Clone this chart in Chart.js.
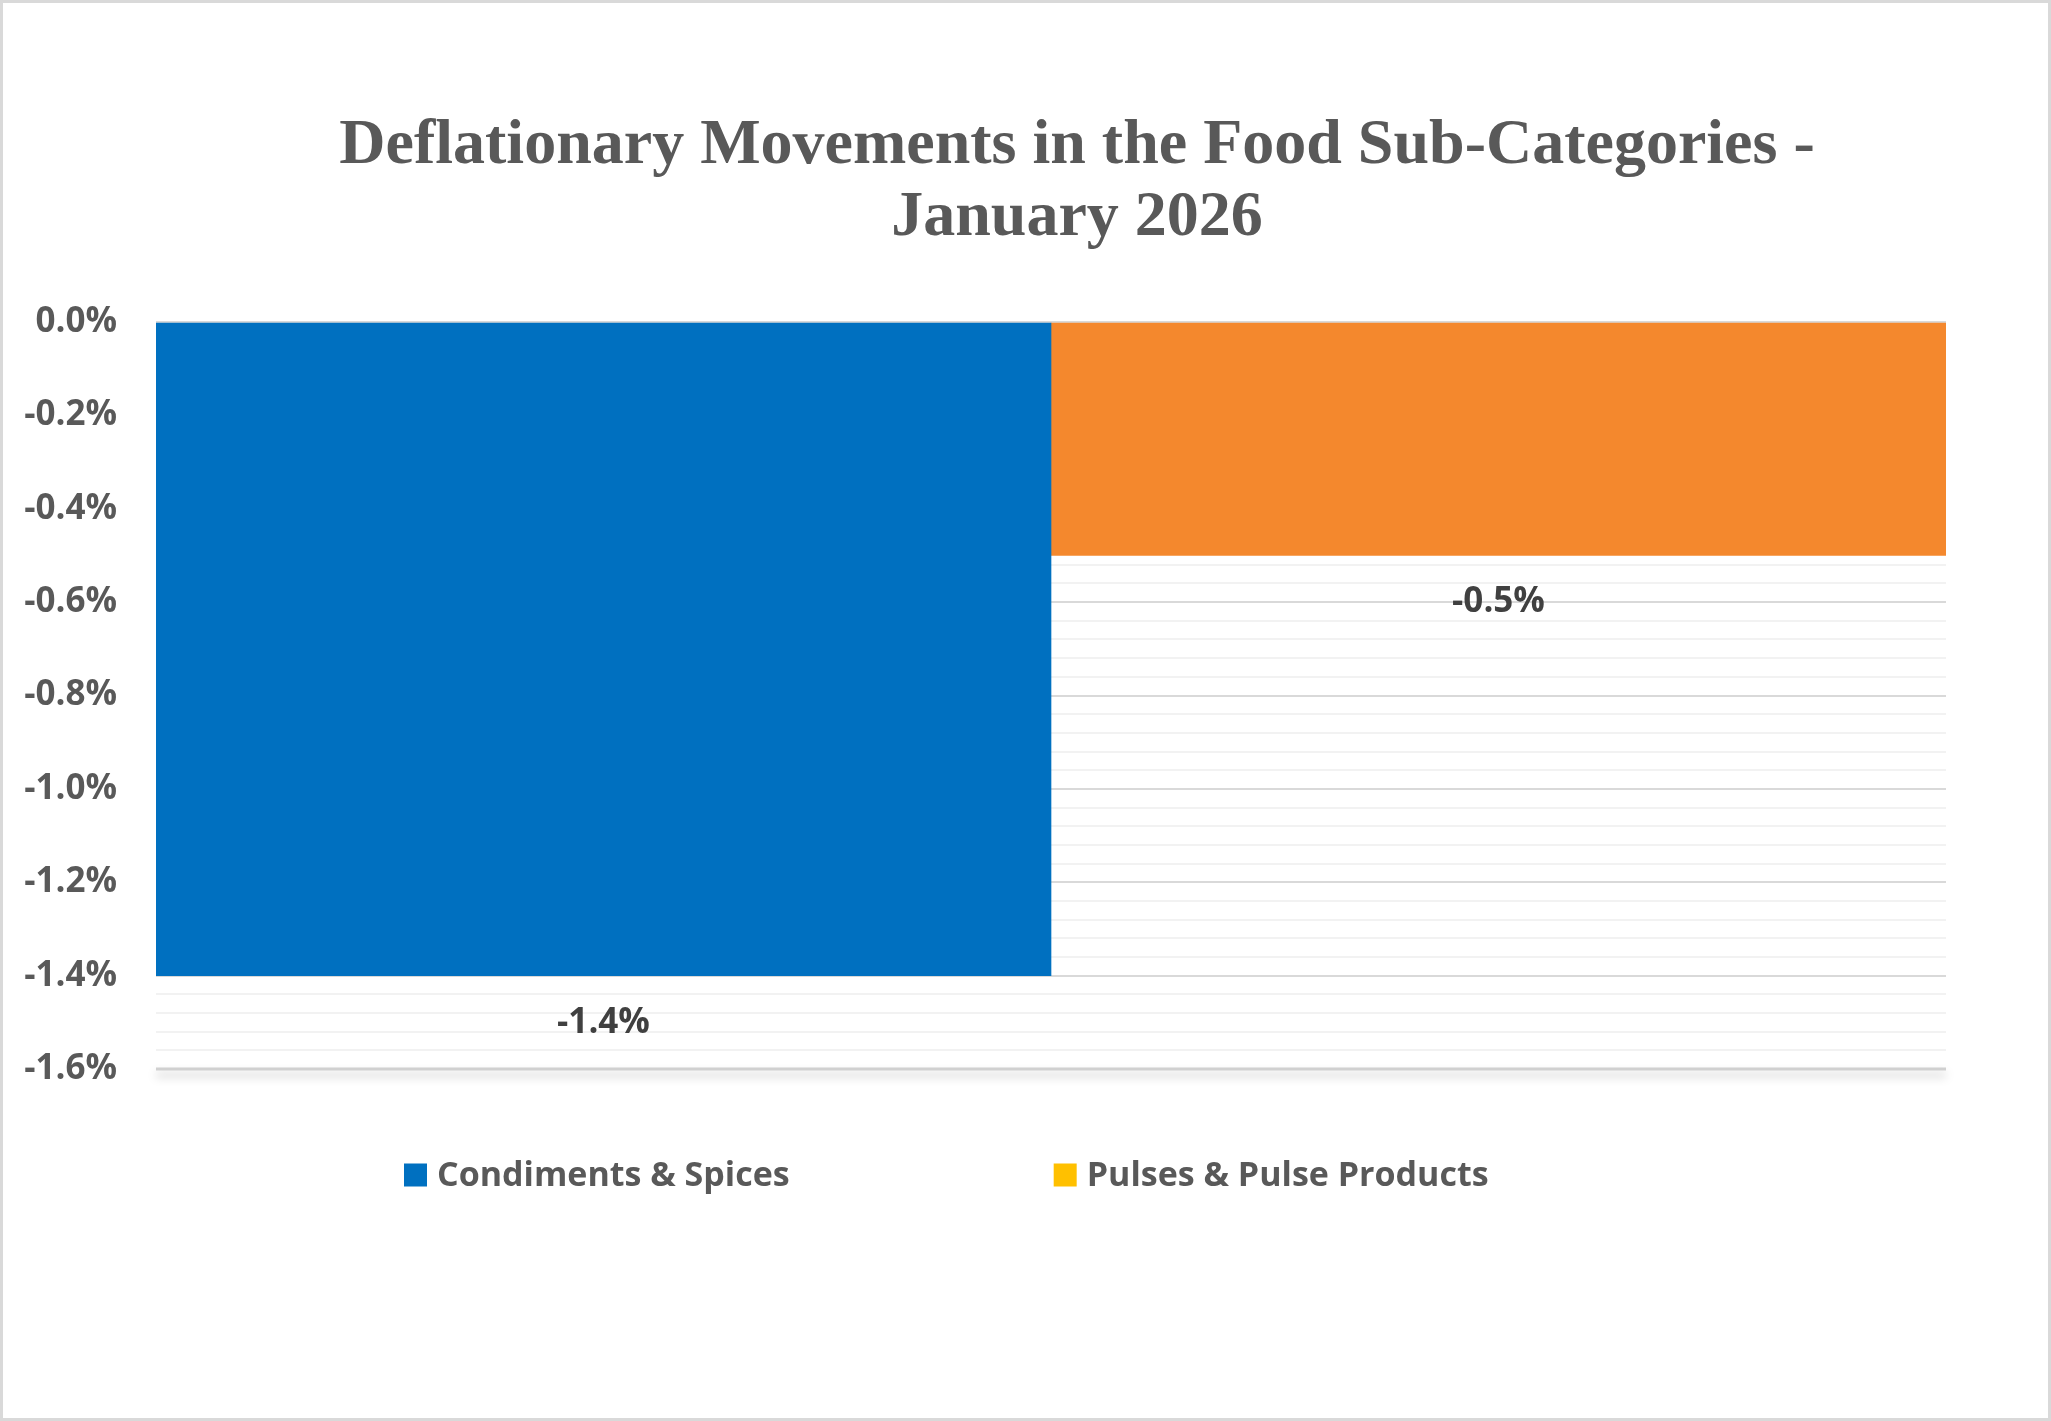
<!DOCTYPE html>
<html>
<head>
<meta charset="utf-8">
<title>Deflationary Movements in the Food Sub-Categories - January 2026</title>
<script src="https://cdn.jsdelivr.net/npm/chart.js@4/dist/chart.umd.min.js"></script>
<style>
    html, body { margin: 0; padding: 0; background: #ffffff; }
    #deflation-chart { display: block; }
</style>
</head>
<body>
<canvas id="deflation-chart" width="2051" height="1421"></canvas>
<script>
// Chart data
const categories = ['January 2026'];
const seriesNames = ['Condiments & Spices', 'Pulses & Pulse Products'];
const condimentsValues = [-1.4];
const pulsesValues = [-0.5];
const yTickLabels = ['0.0%', '-0.2%', '-0.4%', '-0.6%', '-0.8%', '-1.0%', '-1.2%', '-1.4%', '-1.6%'];
const titleLines = ['Deflationary Movements in the Food Sub-Categories -', 'January 2026'];

// Colours (the legend swatch of the second series differs from its bar, as in the source)
const barColors = ['#0070C0', '#F4882D'];
const legendColors = ['#0070C0', '#FFC000'];
const TEXT_GREY = '#595959';
const LABEL_DARK = '#404040';

Chart.defaults.font.family = "'Open Sans', 'Noto Sans', sans-serif";

/**
 * Checks if a tick value falls on a major step (0.2%)
 * @param {number} value - tick value
 */
function isMajorTick(value) {
    return Math.round(value * 100) % 20 === 0;
}

/**
 * White background and thin outer frame
 */
const framePlugin = {
    id: 'frame',
    beforeDraw(chart) {
        const ctx = chart.ctx;
        ctx.save();
        ctx.fillStyle = '#ffffff';
        ctx.fillRect(0, 0, chart.width, chart.height);
        ctx.strokeStyle = '#d9d9d9';
        ctx.lineWidth = 3;
        ctx.strokeRect(1.5, 1.5, chart.width - 3, chart.height - 3);
        ctx.restore();
    }
};

/**
 * Two-line serif title
 */
const titlePlugin = {
    id: 'serifTitle',
    afterDraw(chart, args, opts) {
        const ctx = chart.ctx;
        ctx.save();
        ctx.font = 'bold 64px "Liberation Serif", "DejaVu Serif", serif';
        ctx.fillStyle = TEXT_GREY;
        ctx.textAlign = 'center';
        ctx.textBaseline = 'alphabetic';
        titleLines.forEach((line, i) => {
            ctx.fillText(line, opts.x, opts.y + i * opts.lineHeight);
        });
        ctx.restore();
    }
};

/**
 * Bottom axis line with a soft shadow
 */
const axisLinePlugin = {
    id: 'axisLine',
    afterDatasetsDraw(chart) {
        const {ctx, chartArea} = chart;
        ctx.save();
        ctx.strokeStyle = '#d0d0d0';
        ctx.lineWidth = 3;
        ctx.shadowColor = 'rgba(0, 0, 0, 0.25)';
        ctx.shadowBlur = 10;
        ctx.shadowOffsetY = 6;
        ctx.beginPath();
        ctx.moveTo(chartArea.left, chartArea.bottom);
        ctx.lineTo(chartArea.right, chartArea.bottom);
        ctx.stroke();
        ctx.restore();
    }
};

/**
 * Value labels below the end of each bar
 */
const valueLabelPlugin = {
    id: 'valueLabels',
    afterDatasetsDraw(chart, args, opts) {
        const ctx = chart.ctx;
        ctx.save();
        ctx.font = 'bold 35px "Open Sans", sans-serif';
        ctx.fillStyle = LABEL_DARK;
        ctx.textAlign = 'center';
        ctx.textBaseline = 'middle';
        chart.data.datasets.forEach((dataset, i) => {
            const meta = chart.getDatasetMeta(i);
            meta.data.forEach((bar, j) => {
                const value = dataset.data[j];
                ctx.fillText(value.toFixed(1) + '%', bar.x, bar.y + opts.offset);
            });
        });
        ctx.restore();
    }
};

/**
 * Legend row under the plot
 */
const legendRowPlugin = {
    id: 'legendRow',
    afterDraw(chart, args, opts) {
        const ctx = chart.ctx;
        ctx.save();
        ctx.font = 'bold 34px "Open Sans", sans-serif';
        ctx.textBaseline = 'middle';
        ctx.textAlign = 'left';
        let x = opts.x;
        chart.data.datasets.forEach((dataset, i) => {
            ctx.fillStyle = legendColors[i];
            ctx.fillRect(x, opts.y - opts.box / 2, opts.box, opts.box);
            x += opts.box + 10;
            ctx.fillStyle = TEXT_GREY;
            ctx.fillText(dataset.label, x, opts.y + 1);
            x += ctx.measureText(dataset.label).width + opts.gap;
        });
        ctx.restore();
    }
};

const ctx = document.getElementById('deflation-chart').getContext('2d');

const deflationChart = new Chart(ctx, {
    type: 'bar',
    data: {
        labels: categories,
        datasets: [
            {
                label: seriesNames[0],
                data: condimentsValues,
                backgroundColor: barColors[0],
                borderWidth: 0
            },
            {
                label: seriesNames[1],
                data: pulsesValues,
                backgroundColor: barColors[1],
                borderWidth: 0
            }
        ]
    },
    options: {
        responsive: false,
        devicePixelRatio: 1,
        animation: false,
        layout: {
            padding: { top: 322, left: 16, right: 105, bottom: 352 }
        },
        datasets: {
            bar: { barPercentage: 1, categoryPercentage: 1 }
        },
        scales: {
            x: { display: false },
            y: {
                min: -1.6,
                max: 0,
                afterFit: (scale) => { scale.width = 140; },
                border: { display: false },
                grid: {
                    drawTicks: false,
                    lineWidth: 2,
                    color: (c) => isMajorTick(c.tick.value) ? '#d9d9d9' : '#f2f2f2'
                },
                ticks: {
                    stepSize: 0.04,
                    autoSkip: false,
                    padding: 39,
                    color: TEXT_GREY,
                    font: { size: 35, weight: 'bold' },
                    callback: (value) => isMajorTick(value) ? yTickLabels[Math.round(-value / 0.2)] : ''
                }
            }
        },
        plugins: {
            legend: { display: false },
            tooltip: { enabled: false },
            serifTitle: { x: 1077, y: 163, lineHeight: 72 },
            valueLabels: { offset: 47 },
            legendRow: { x: 404, y: 1175, box: 23, gap: 264 }
        }
    },
    plugins: [framePlugin, titlePlugin, axisLinePlugin, valueLabelPlugin, legendRowPlugin]
});
</script>
</body>
</html>
